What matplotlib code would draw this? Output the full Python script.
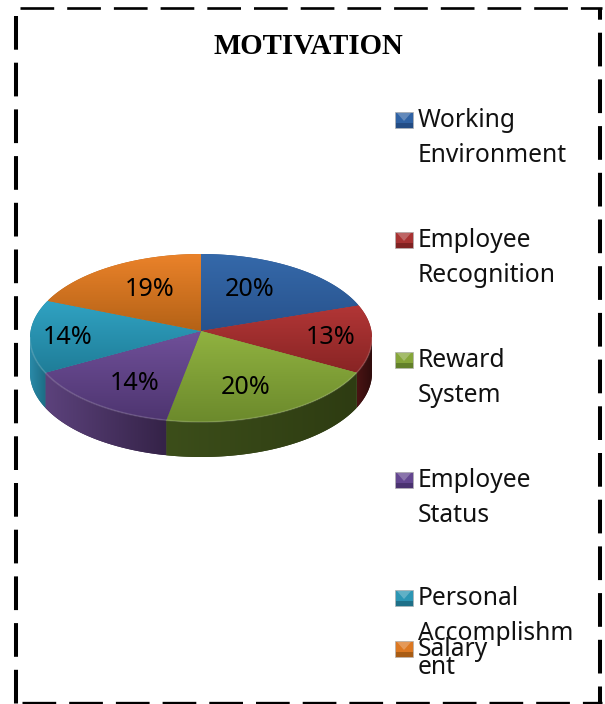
import numpy as np
import matplotlib
matplotlib.use("Agg")
import matplotlib.pyplot as plt
from matplotlib.colors import to_rgb
from matplotlib.patches import Polygon, Rectangle

plt.rcParams['lines.scale_dashes'] = False

title = "MOTIVATION"
categories = ["Working\nEnvironment", "Employee\nRecognition", "Reward\nSystem",
              "Employee\nStatus", "Personal\nAccomplishm\nent", "Salary"]
values = [20, 13, 20, 14, 14, 19]

# top face gradient (light, dark), side wall gradient (left, right)
top_colors = [('#3569aa', '#28528c'), ('#b23636', '#882424'), ('#90b240', '#6c8a2c'),
              ('#70509a', '#4e3570'), ('#30a2c2', '#1f7d98'), ('#ea822a', '#b46216')]
side_colors = [('#28528c', '#28528c'), ('#4a1414', '#2e0c0c'), ('#3c4e1a', '#2e3c12'),
               ('#5c427c', '#352348'), ('#2a8aa8', '#1d6c84'), ('#b46216', '#b46216')]
legend_colors = ['#2f62a4', '#a83232', '#86a63a', '#644690', '#2c96b4', '#dc7822']
legend_dark = ['#234c84', '#802222', '#62802a', '#4a3270', '#1e7088', '#a85c14']

# pixel layout of the picture
cx, cy, rx, ry = 201, 338, 171, 84
apex_y = 331
depth = 35
label_pos = [(250, 289), (331, 338), (246, 387), (135, 383), (68, 338), (150, 289)]
legend_x = 395
legend_y = [120, 240, 360, 480, 598, 649]

fig = plt.figure(figsize=(6.05, 7.04), dpi=100)
ax = fig.add_axes([0, 0, 1, 1])


def arc(a0, a1, n=80):
    # angles are clockwise from the top of the pie, in degrees
    t = np.radians(np.linspace(a0, a1, n))
    return np.column_stack([cx + rx * np.sin(t), cy - ry * np.cos(t)])


def gradient_fill(points, c0, c1, vertical=True, zorder=2):
    poly = Polygon(points, closed=True, transform=ax.transData, facecolor=c1, edgecolor='none', zorder=zorder)
    ax.add_patch(poly)
    g = np.linspace(to_rgb(c0), to_rgb(c1), 64)
    g = g[:, None, :] if vertical else g[None, :, :]
    x0, y0 = points.min(axis=0)
    x1, y1 = points.max(axis=0)
    im = ax.imshow(g, extent=(x0, x1, y1, y0), aspect='auto', origin='upper', zorder=zorder, interpolation='bilinear')
    im.set_clip_path(poly)


edges = np.concatenate([[0], np.cumsum(values)]) / sum(values) * 360
# the 3d view squeezes the sides of the pie towards the back
edges = edges - 5 * np.sin(np.radians(edges))

# side walls, only the front half of the pie shows
for i in range(len(values)):
    a0, a1 = max(edges[i], 90), min(edges[i + 1], 270)
    if a1 <= a0:
        continue
    top_arc = arc(a0, a1)
    wall = np.vstack([top_arc, (top_arc + [0, depth])[::-1]])
    gradient_fill(wall, side_colors[i][0], side_colors[i][1], vertical=False, zorder=2)

# top face
for i in range(len(values)):
    face = np.vstack([[[cx, apex_y]], arc(edges[i], edges[i + 1])])
    gradient_fill(face, top_colors[i][0], top_colors[i][1], zorder=3)

# soft rim on the front edge
rim = arc(90, 270, 200)
ax.plot(rim[:, 0], rim[:, 1], color='white', alpha=0.15, lw=1.2, zorder=4)

for v, (x, y) in zip(values, label_pos):
    ax.text(x, y, f"{v}%", family='Noto Sans', fontsize=18.1, color='black', ha='center', va='center', zorder=5)

# legend
for name, col, dark, y in zip(categories, legend_colors, legend_dark, legend_y):
    ax.add_patch(Rectangle((legend_x, y - 8), 18, 16, facecolor=col, edgecolor='#b0b0b0', lw=0.5, zorder=3))
    ax.add_patch(Rectangle((legend_x + 0.5, y + 3), 17, 4.5, facecolor=dark, edgecolor='none', zorder=4))
    ax.add_patch(Polygon([(legend_x + 2, y - 7), (legend_x + 16, y - 7), (legend_x + 9, y + 1)],
                         closed=True, facecolor='white', alpha=0.25, edgecolor='none', zorder=4))
    ax.text(legend_x + 23, y - 12, name, family='Noto Sans', fontsize=17.7, color='#111111',
            ha='left', va='top', linespacing=1.51, zorder=5)

ax.text(308, 47, title, family='Liberation Serif', fontweight='bold', fontsize=20.8, color='black',
        ha='center', va='center')

# dashed page border
dash = (0, (33.7 * 0.72, 13 * 0.72))
ax.plot([20, 602], [8, 8], color='black', lw=1.9, ls=dash)
ax.plot([22, 602], [703, 703], color='black', lw=2.4, ls=dash)
ax.plot([15.5, 15.5], [16, 704], color='black', lw=2.9, ls=dash)
ax.plot([600, 600], [8, 704], color='black', lw=2.9, ls=(22 * 0.72, (33.7 * 0.72, 13 * 0.72)))

ax.set_xlim(0, 605)
ax.set_ylim(704, 0)
ax.axis('off')

fig.savefig("out.png", dpi=100)
